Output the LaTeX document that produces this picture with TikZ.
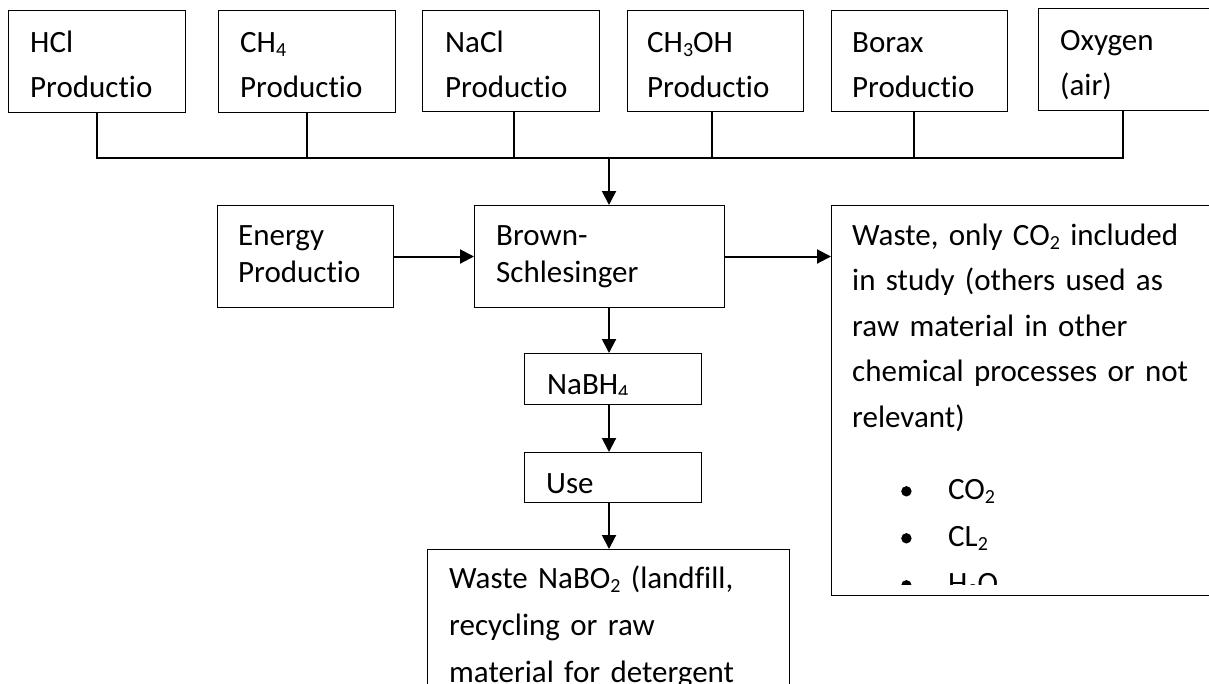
\documentclass[tikz,border=0pt]{standalone}
\usepackage{fontspec}
\setmainfont{Carlito}[Ligatures={NoCommon}]
\usetikzlibrary{arrows.meta}
\newcommand\chsub[1]{\raisebox{-0.13em}{\fontsize{20}{20}\selectfont #1}}
\newcommand\mybul{\makebox[47pt][l]{\raisebox{3pt}{\tikz\fill (0,0) circle (5.2pt);}}}
\tikzset{
  box/.style={draw, line width=1pt, inner sep=0pt, anchor=north west},
  txt/.style={anchor=base west, inner sep=0pt, text width=#1, align=left},
  txt/.default=340pt,
  bus/.style={line width=1.1pt},
  arr/.style={line width=2pt, -{Triangle[length=14pt,width=14pt]}},
}
\begin{document}
\begin{tikzpicture}[x=1pt,y=-1pt, font=\fontsize{31}{45}\selectfont]
\useasboundingbox (0,0) rectangle (1209,683);
\clip (0,0) rectangle (1209,683);
\fill[white] (0,0) rectangle (1209,683);
% top boxes
\node[box, minimum width=177pt, minimum height=102pt] (hcl) at (8,10) {};
\node[box, minimum width=177pt, minimum height=102pt] (ch4) at (218,10) {};
\node[box, minimum width=177pt, minimum height=101pt] (nacl) at (422,10) {};
\node[box, minimum width=176pt, minimum height=101pt] (meoh) at (627,10) {};
\node[box, minimum width=176pt, minimum height=101pt] (borax) at (831,10) {};
\node[box, minimum width=250pt, minimum height=102pt] (oxy) at (1038,8) {};
\node[txt] (hclt) at (30,52) {HCl\\Productio};
\node[txt] (ch4t) at (240,52) {CH\chsub{4}\\Productio};
\node[txt] (naclt) at (445,52) {NaCl\\Productio};
\node[txt] (meoht) at (647,52) {CH\chsub{3}OH\\Productio};
\node[txt] (boraxt) at (852,52) {Borax\\Productio};
\node[txt] (oxyt) at (1060,50) {Oxygen\\(air)};
% bus
\coordinate (b1) at (97,158);
\coordinate (b2) at (307,158);
\coordinate (b3) at (514,158);
\coordinate (b4) at (712,158);
\coordinate (b5) at (914,158);
\coordinate (b6) at (1123,158);
\coordinate (mid) at (609,158);
\draw[bus] (hcl.south -| b1) -- (b1) -- (b6) -- (oxy.south -| b6);
\draw[bus] (ch4.south -| b2) -- (b2);
\draw[bus] (nacl.south -| b3) -- (b3);
\draw[bus] (meoh.south -| b4) -- (b4);
\draw[bus] (borax.south -| b5) -- (b5);
% middle row
\node[box, minimum width=176pt, minimum height=102pt] (energy) at (217,205) {};
\node[box, minimum width=250pt, minimum height=102pt] (brown) at (474,205) {};
\node[box, minimum width=420pt, minimum height=390pt] (wasteR) at (831,205) {};
\node[txt, font=\fontsize{31}{37}\selectfont] (energyt) at (238,245) {Energy\\Productio};
\node[txt, font=\fontsize{31}{37}\selectfont] (brownt) at (496,245) {Brown-\\Schlesinger};
\begin{scope}
\clip (832,206) rectangle (1209,584);
\node[txt=360pt, font=\fontsize{31}{45.5}\selectfont] (wasteRt) at (852,245) {Waste, only CO\chsub{2} included\\in study (others used as\\raw material in other\\chemical processes or not\\relevant)\\[27pt]
\hspace*{49pt}\mybul CO\chsub{2}\\[1.5pt]
\hspace*{49pt}\mybul CL\chsub{2}\\[1.5pt]
\hspace*{49pt}\mybul H\chsub{2}O};
\end{scope}
% lower column
\node[box, minimum width=177pt, minimum height=51pt] (nabh) at (524,353) {};
\node[box, minimum width=177pt, minimum height=50pt] (use) at (524,452) {};
\node[box, minimum width=362pt, minimum height=200pt] (wasteB) at (427,549) {};
\begin{scope}
\clip (525,354) rectangle (700,394);
\node[txt] (nabht) at (547,394) {NaBH\chsub{4}};
\end{scope}
\begin{scope}
\clip (525,453) rectangle (700,493);
\node[txt] (uset) at (546,493) {Use};
\end{scope}
\node[txt, font=\fontsize{31}{47}\selectfont] (wasteBt) at (449,588) {Waste NaBO\chsub{2} (landfill,\\recycling or raw\\material for detergent};
% arrows
\draw[arr] (mid) -- (mid |- brown.north);
\draw[arr] (energy.east) -- (brown.west);
\draw[arr] (brown.east) -- (brown.east -| wasteR.west);
\draw[arr] (brown.south -| mid) -- (nabh.north -| mid);
\draw[arr] (nabh.south -| mid) -- (use.north -| mid);
\draw[arr] (use.south -| mid) -- (wasteB.north -| mid);
\end{tikzpicture}
\end{document}
